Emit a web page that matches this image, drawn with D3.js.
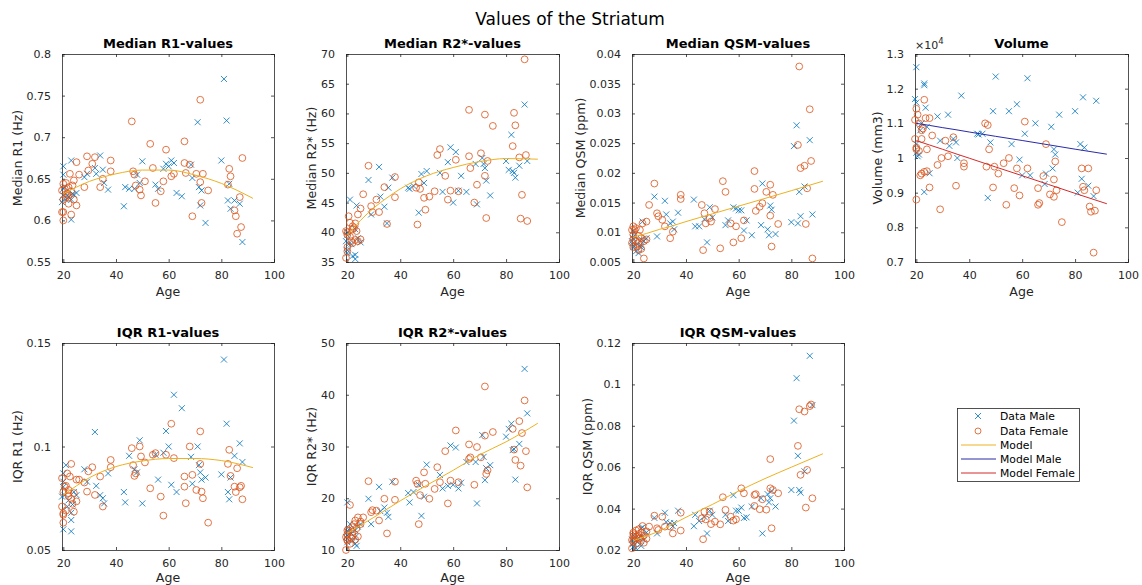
<!DOCTYPE html>
<html><head><meta charset="utf-8">
<script src="https://cdn.jsdelivr.net/npm/d3@7"></script>
<style>body{margin:0;background:#fff}svg{display:block}text{font-family:"DejaVu Sans",sans-serif}</style>
</head><body><svg id="c" width="1142" height="585"></svg>
<script>
// ---------- data ----------
const maleAge = [19.5,20,20,20,20,20.5,21,21.5,22,23,23,23,23.5,24,25,28,29,32,32.5,34,35,35.5,37,43,43.5,45,47,48,49,50,55,56,58,59,60,61,62,63,65,68.5,69,71,71.5,72,72.5,74,80,81,82,82.5,83,83.5,85,87,88];
const femaleAge = [19.5,19.5,20,20,20,20,20.5,21,21,21.5,22,22,22,22.5,23,23,23.5,24,24,25,25,26,28,29,29.5,31,32,34,35,38,38,46,46.5,47,47.5,49,49.5,51,53,54,55,57,58,59,61,62,66,66,66.5,68,69,70.5,72,72,72.5,73,75,82.5,83,83.5,85,85.5,86,87,88,87.5];

const medR1Male = [.622,.655,.665,.638,.63,.64,.625,.63,.628,.672,.601,.625,.632,.631,.633,.652,.656,.663,.656,.678,.661,.645,.637,.617,.64,.638,.638,.655,.645,.671,.643,.638,.662,.668,.665,.672,.669,.633,.629,.667,.651,.718,.64,.618,.636,.597,.672,.77,.72,.624,.644,.614,.624,.62,.574];
const medR1Female = [.636,.61,.60,.644,.61,.625,.638,.628,.645,.632,.62,.64,.63,.656,.607,.635,.642,.625,.648,.67,.618,.655,.64,.677,.66,.668,.676,.64,.65,.672,.659,.719,.659,.655,.642,.637,.63,.647,.692,.663,.621,.635,.647,.685,.653,.656,.695,.669,.657,.667,.605,.656,.745,.646,.621,.656,.636,.643,.662,.653,.612,.605,.584,.628,.675,.592];

const medR2Male = [38.5,40,37,39.5,36.5,38,45.5,38,36,35.5,36.2,40.5,44.5,39,38.3,48.8,43,51,46,44.3,41.5,47.5,49.2,47.5,47.3,47.8,43.3,49.8,48.3,50.3,50,46.8,51.8,54.3,45,53.5,47,49.5,46.8,51.5,44.7,52.5,51.5,50.8,48.7,46.2,52,50.5,56.4,50.3,50,49.2,51.2,61.5,52];
const medR2Female = [35.7,40.2,39.6,36.8,40,37.5,42.7,41.6,39.3,38.5,41,40.5,38.2,40.7,38.7,41.5,40.2,43,38.5,44,38.8,46.4,51.2,44.4,43.4,45.5,43.4,47.6,41.4,49.3,45.9,47.5,41.3,48.4,47.3,45.8,43.8,46,46.9,53,54,49.5,45.5,47,52.2,46.9,60.6,52.8,50.8,45,48,53.3,59.8,49.5,42.4,52,57.9,54.5,60.1,58,52.6,42.3,46.3,69.1,41.9,53];

const medQsmMale = [.0085,.0078,.009,.0075,.0102,.0095,.0068,.008,.0065,.0088,.0075,.0078,.0118,.0085,.009,.016,.0093,.0153,.013,.0115,.0118,.0105,.0133,.0155,.011,.011,.0122,.0083,.0142,.0125,.0112,.012,.0142,.014,.0137,.0137,.0103,.012,.0095,.0112,.0182,.0105,.0095,.0145,.0138,.0097,.0117,.0245,.028,.0115,.0168,.0127,.0177,.0255,.013];
const medQsmFemale = [.0082,.0104,.011,.0096,.0088,.0075,.0104,.0107,.0085,.0076,.007,.0094,.0082,.0104,.009,.0072,.0115,.0056,.0085,.0118,.0088,.0146,.0182,.0132,.0127,.0121,.011,.009,.0101,.0163,.0156,.0146,.007,.0132,.0115,.0124,.0118,.0139,.0073,.0186,.0168,.0115,.0083,.011,.009,.012,.0203,.0173,.0136,.0143,.0149,.0168,.018,.0128,.0076,.0163,.0114,.0247,.0379,.0208,.0212,.0114,.0174,.0307,.0056,.022];

const volMale = [11700,11600,12620,10150,10400,10050,10100,10800,11000,12150,12100,9020,11450,10900,9560,11200,10500,11250,10350,10550,10450,10000,11800,10700,10680,10700,8850,10450,11350,12350,11350,10400,11550,9950,9500,10700,12300,9500,11000,9250,9550,10900,9700,10250,10100,11250,11350,9000,10400,9400,11750,10300,9200,8900,11650];
const volFemale = [11100,10550,8800,11420,10300,10250,11250,11000,10200,9500,10800,10550,9550,10850,11680,9600,11150,10250,9620,11150,9150,10650,9800,8520,10000,10500,10050,10600,9200,9850,9750,11000,9750,10950,10250,9150,9750,9550,9850,8650,10000,9130,9700,8920,11050,9700,9130,8650,8700,9480,10400,8950,8880,9380,9900,9070,8150,9700,9170,9070,9700,8600,8450,7270,9070,8480];

const iqrR1Male = [.0758,.0805,.06,.087,.083,.0765,.091,.071,.074,.059,.0645,.068,.072,.078,.0765,.089,.083,.107,.081,.0765,.075,.0725,.087,.078,.073,.0955,.089,.0875,.103,.0725,.096,.084,.097,.1075,.1,.0815,.125,.078,.1185,.095,.082,.1,.091,.0875,.084,.085,.0865,.142,.111,.078,.0745,.085,.0955,.1015,.0925];
const iqrR1Female = [.0847,.071,.0677,.0632,.067,.078,.0806,.069,.081,.087,.0774,.076,.079,.0855,.0916,.0747,.0723,.0685,.0775,.084,.0735,.084,.0826,.0782,.088,.09,.0766,.0855,.071,.0935,.09,.0992,.091,.0858,.087,.1,.0952,.0923,.0798,.096,.0968,.0758,.0666,.096,.111,.0944,.0855,.0806,.0726,.1,.0863,.079,.1073,.0916,.0782,.075,.0632,.0916,.0984,.0858,.0806,.078,.0895,.0803,.0745,.081];

const iqrR2Male = [12.5,13.5,19.2,11.5,12.8,14,15,13.2,11.8,12.5,13.8,11.2,10.8,14.5,15,19.9,15,22.2,17.5,18.2,17.2,16.4,23.2,21,19.2,21.2,22.6,16.6,20.3,26.5,24.5,21.9,22.4,30.2,22.6,29.8,21.9,23,27,27,19,32.2,28,23.5,25.8,26.4,31.9,33.4,34.4,29.3,29.5,23.6,30.5,45,36.4];
const iqrR2Female = [10,12.5,13.8,11.8,13,12,13.8,18.7,11.2,12.2,14.4,12.8,13.5,15,12,15.7,14.2,16.3,12.6,15.5,15,16.3,23.3,17.3,17.7,17.6,15.7,19.9,13.2,23.2,19.7,23.4,22.8,15,20.6,25,22.8,19.9,21.8,26,23.1,29.1,19,23.4,33.1,23.1,30.4,27.6,27.9,22.6,29.9,27.9,41.6,32.1,24.7,25.4,32.8,33.4,29.4,27.4,34.9,26.3,32.6,38.9,22.1,29.1];

const iqrQsmMale = [.025,.023,.0215,.027,.0235,.025,.021,.024,.026,.0305,.022,.027,.031,.025,.0285,.0355,.028,.038,.0335,.033,.0315,.033,.039,.0315,.037,.034,.036,.028,.039,.037,.037,.034,.0465,.039,.039,.0405,.0355,.0358,.041,.045,.028,.047,.043,.045,.0485,.041,.049,.0825,.103,.0655,.049,.0477,.058,.1138,.09];
const iqrQsmFemale = [.0208,.0248,.0284,.0265,.024,.0277,.0248,.0265,.0294,.0232,.0255,.0277,.03,.026,.0248,.0283,.0316,.0235,.027,.029,.0255,.0313,.0366,.0305,.0297,.0361,.0313,.0313,.028,.038,.0294,.0353,.0252,.0385,.0348,.0385,.0325,.0337,.0324,.0455,.0394,.0361,.0342,.0348,.0498,.0474,.0466,.0413,.047,.0397,.0445,.0395,.0639,.0498,.0305,.049,.0474,.0703,.088,.0563,.0869,.0405,.0587,.0895,.045,.0903];

// model curves
const modelAge = [20,25,30,35,40,50,60,70,80,92];
const modelMedR1 = [.632,.640,.647,.652,.656,.6605,.6605,.6545,.6445,.6265];
const modelMedR2 = [39.5,42,44.1,45.8,47.3,49.5,50.9,51.9,52.4,52.3];
const modelMedQsm = [.0092,.0098,.0105,.0111,.0118,.0131,.0144,.0157,.0170,.0186];
const modelVolMale = [11000,10940,10875,10815,10750,10625,10505,10380,10255,10110];
const modelVolFemale = [10500,10375,10250,10120,9995,9740,9490,9235,8980,8680];
const modelIqrR1 = [.0765,.0810,.0850,.0880,.0903,.0930,.0942,.0942,.0932,.0898];
const modelIqrR2 = [13.2,14.8,16.3,17.9,19.5,22.5,25.4,28.4,30.9,34.5];
const modelIqrQsm = [.0245,.0268,.0292,.0325,.0358,.0420,.0485,.0545,.0600,.0665];

const xTicks = [20,40,60,80,100];
const ticksMedR1 = [.55,.6,.65,.7,.75,.8];
const ticksMedR2 = [35,40,45,50,55,60,65,70];
const ticksMedQsm = [.005,.01,.015,.02,.025,.03,.035,.04];
const ticksVol = [7000,8000,9000,10000,11000,12000,13000];
const ticksIqrR1 = [.05,.1,.15];
const ticksIqrR2 = [10,20,30,40,50];
const ticksIqrQsm = [.02,.04,.06,.08,.1,.12];

const legendLabels = ["Data Male","Data Female","Model","Model Male","Model Female"];

// ---------- styles / layout ----------
const C = {male:"#0072BD", female:"#D95319", model:"#EDB120", modelMale:"#2a2aa8", modelFemale:"#d42a2a", axis:"#262626"};
const cols = [[62,274],[346,559],[632,844],[915,1128]];
const rows = [[54,262],[343,550]];

const panels = [
  {r:0,c:0,title:"Median R1-values",ylab:"Median R1 (Hz)",dom:[.55,.8],ticks:ticksMedR1,m:medR1Male,f:medR1Female,models:[[modelMedR1,C.model]]},
  {r:0,c:1,title:"Median R2*-values",ylab:"Median R2* (Hz)",dom:[35,70],ticks:ticksMedR2,m:medR2Male,f:medR2Female,models:[[modelMedR2,C.model]]},
  {r:0,c:2,title:"Median QSM-values",ylab:"Median QSM (ppm)",dom:[.005,.04],ticks:ticksMedQsm,m:medQsmMale,f:medQsmFemale,models:[[modelMedQsm,C.model]]},
  {r:0,c:3,title:"Volume",ylab:"Volume (mm3)",dom:[7000,13000],ticks:ticksVol,m:volMale,f:volFemale,models:[[modelVolMale,C.modelMale],[modelVolFemale,C.modelFemale]],scale:1e4},
  {r:1,c:0,title:"IQR R1-values",ylab:"IQR R1 (Hz)",dom:[.05,.15],ticks:ticksIqrR1,m:iqrR1Male,f:iqrR1Female,models:[[modelIqrR1,C.model]]},
  {r:1,c:1,title:"IQR R2*-values",ylab:"IQR R2* (Hz)",dom:[10,50],ticks:ticksIqrR2,m:iqrR2Male,f:iqrR2Female,models:[[modelIqrR2,C.model]]},
  {r:1,c:2,title:"IQR QSM-values",ylab:"IQR QSM (ppm)",dom:[.02,.12],ticks:ticksIqrQsm,m:iqrQsmMale,f:iqrQsmFemale,models:[[modelIqrQsm,C.model]]}
];

const svg = d3.select("#c");
const fmt = v => String(parseFloat((+v).toFixed(5)));

svg.append("text").attr("x",570).attr("y",25).attr("text-anchor","middle")
  .attr("font-size",17).attr("fill","#000").text("Values of the Striatum");

function crossPath(s){return `M${-s},${-s}L${s},${s}M${-s},${s}L${s},${-s}`;}

panels.forEach(p=>{
  const [x0,x1] = cols[p.c], [y0,y1] = rows[p.r];
  const x = d3.scaleLinear().domain([19.5,100]).range([x0,x1]);
  const y = d3.scaleLinear().domain(p.dom).range([y1,y0]);
  const g = svg.append("g");
  const tl = 3;
  const axL = g.append("g").attr("transform",`translate(${x0},0)`).call(d3.axisLeft(y).tickValues(p.ticks).tickSize(-tl).tickPadding(8+tl).tickFormat(v=>fmt(p.scale? v/p.scale : v)));
  const axR = g.append("g").attr("transform",`translate(${x1},0)`).call(d3.axisRight(y).tickValues(p.ticks).tickSize(-tl).tickFormat(""));
  const axB = g.append("g").attr("transform",`translate(0,${y1})`).call(d3.axisBottom(x).tickValues(xTicks).tickSize(-tl).tickPadding(6+tl).tickFormat(d3.format("d")));
  const axT = g.append("g").attr("transform",`translate(0,${y0})`).call(d3.axisTop(x).tickValues(xTicks).tickSize(-tl).tickFormat(""));
  [axL,axR,axB,axT].forEach(a=>{
    a.select(".domain").attr("stroke",C.axis).attr("stroke-width",0.8);
    a.selectAll(".tick line").attr("stroke",C.axis).attr("stroke-width",0.8);
    a.selectAll("text").attr("font-size",11).attr("fill",C.axis).attr("font-family","DejaVu Sans");
  });
  let maxW = 0;
  axL.selectAll("text").each(function(){maxW=Math.max(maxW,this.getComputedTextLength());});
  const dg = g.append("g");
  dg.selectAll("path.m").data(p.m).join("path").attr("class","m")
    .attr("transform",(d,i)=>`translate(${x(maleAge[i])},${y(d)})`)
    .attr("d",crossPath(3)).attr("fill","none").attr("stroke",C.male).attr("stroke-width",0.8);
  dg.selectAll("circle.f").data(p.f).join("circle").attr("class","f")
    .attr("cx",(d,i)=>x(femaleAge[i])).attr("cy",d=>y(d)).attr("r",3.4)
    .attr("fill","none").attr("stroke",C.female).attr("stroke-width",0.8);
  p.models.forEach(([vals,col])=>{
    const line = d3.line().x((d,i)=>x(modelAge[i])).y(d=>y(d)).curve(d3.curveMonotoneX);
    dg.append("path").attr("d",line(vals)).attr("fill","none").attr("stroke",col).attr("stroke-width",1);
  });
  g.append("text").attr("x",(x0+x1)/2).attr("y",y0-6).attr("text-anchor","middle")
    .attr("font-size",13).attr("font-weight","bold").attr("fill","#000").text(p.title);
  g.append("text").attr("x",(x0+x1)/2).attr("y",y1+(p.r===0?34:31.5)).attr("text-anchor","middle")
    .attr("font-size",12.6).attr("fill",C.axis).text("Age");
  const lx = x0 - 8 - maxW - 8;
  g.append("text").attr("transform",`translate(${lx},${(y0+y1)/2}) rotate(-90)`).attr("text-anchor","middle")
    .attr("font-size",12.6).attr("fill",C.axis).text(p.ylab);
  if(p.scale){
    const t = g.append("text").attr("x",x0).attr("y",y0-5).attr("font-size",11).attr("fill",C.axis);
    t.append("tspan").text("×10");
    t.append("tspan").attr("dy",-5).attr("font-size",8.5).text("4");
  }
});

// ---------- legend ----------
const lg = svg.append("g");
lg.append("rect").attr("x",957.5).attr("y",408.5).attr("width",122).attr("height",73)
  .attr("fill","#fff").attr("stroke",C.axis).attr("stroke-width",0.8);
const ly = [416,431,445,459,473];
legendLabels.forEach((lab,i)=>{
  const yy = ly[i];
  if(i===0) lg.append("path").attr("transform",`translate(978,${yy})`).attr("d",crossPath(3)).attr("fill","none").attr("stroke",C.male).attr("stroke-width",0.8);
  else if(i===1) lg.append("circle").attr("cx",978).attr("cy",yy).attr("r",3).attr("fill","none").attr("stroke",C.female).attr("stroke-width",0.8);
  else lg.append("line").attr("x1",961).attr("x2",996).attr("y1",yy).attr("y2",yy).attr("stroke",[C.model,C.modelMale,C.modelFemale][i-2]).attr("stroke-width",1);
  lg.append("text").attr("x",1000).attr("y",yy+4).attr("font-size",10.8).attr("fill","#000").text(lab);
});
</script></body></html>
